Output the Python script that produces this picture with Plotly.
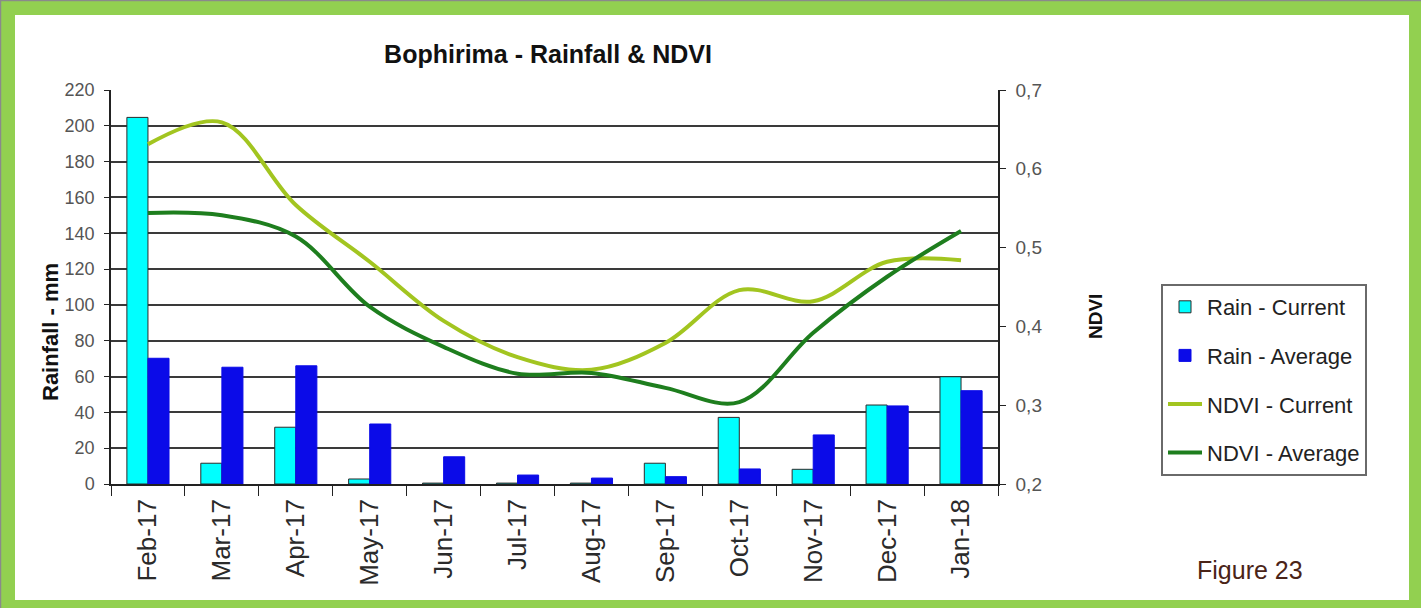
import plotly.graph_objects as go

# ---- data ----
categories = ["Feb-17", "Mar-17", "Apr-17", "May-17", "Jun-17", "Jul-17",
              "Aug-17", "Sep-17", "Oct-17", "Nov-17", "Dec-17", "Jan-18"]
rain_current = [204.7, 11.6, 31.7, 2.8, 0.5, 0.5, 0.5, 11.6, 37.2, 8.2, 44.1, 59.9]
rain_average = [70.2, 65.2, 66.0, 33.5, 15.2, 5.0, 3.3, 4.1, 8.4, 27.4, 43.6, 52.1]
ndvi_current = [0.631, 0.659, 0.554, 0.482, 0.407, 0.361, 0.345, 0.379, 0.446, 0.432, 0.482, 0.484]
ndvi_average = [0.544, 0.541, 0.514, 0.425, 0.374, 0.340, 0.341, 0.322, 0.304, 0.392, 0.463, 0.521]
rain_ticks = list(range(0, 221, 20))
grid_ticks = list(range(20, 201, 20))

W, H = 1421, 608
L, R, T, B = 111, 998, 90, 484
FONT = "Liberation Sans, Arial, sans-serif"


def px(x):
    return (x - L) / (R - L)


def py(y):
    return (B - y) / (B - T)


fig = go.Figure()
fig.add_trace(go.Bar(x=categories, y=rain_current, name="Rain - Current",
                     marker=dict(color="#00FFFF", line=dict(color="#2b2b2b", width=1)),
                     legendgroup="a", yaxis="y"))
fig.add_trace(go.Bar(x=categories, y=rain_average, name="Rain - Average",
                     marker=dict(color="#0B0BE8", line=dict(color="#0B0BE8", width=1)),
                     legendgroup="b", yaxis="y"))
fig.add_trace(go.Scatter(x=categories, y=ndvi_current, name="NDVI - Current", mode="lines",
                         line=dict(color="#A2C520", width=4, shape="spline", smoothing=1.0),
                         legendgroup="c", yaxis="y2"))
fig.add_trace(go.Scatter(x=categories, y=ndvi_average, name="NDVI - Average", mode="lines",
                         line=dict(color="#1E7E1E", width=4, shape="spline", smoothing=1.0),
                         legendgroup="d", yaxis="y2"))

fig.update_layout(
    width=W, height=H,
    margin=dict(l=L, r=W - R, t=T, b=H - B, pad=0),
    paper_bgcolor="#92D050",
    plot_bgcolor="rgba(0,0,0,0)",
    separators=",.",
    font=dict(family=FONT, color="#333333"),
    barmode="group", bargap=0.43, bargroupgap=0.0,
    showlegend=True,
    legend=dict(x=px(1161), y=py(284), xanchor="left", yanchor="top",
                bordercolor="#6a6a6a", borderwidth=2, bgcolor="white",
                font=dict(family=FONT, size=22, color="#222222"),
                tracegroupgap=17, itemwidth=34, traceorder="grouped"),
    title=dict(text="Bophirima - Rainfall & NDVI", x=548 / W, y=1 - 54 / H,
               xref="container", yref="container", xanchor="center", yanchor="middle",
               font=dict(family=FONT, size=25, color="#111111", weight="bold")),
    xaxis=dict(type="category", range=[-0.5, len(categories) - 0.5],
               showline=True, linecolor="#222222", linewidth=1.5,
               ticks="outside", tickson="boundaries", ticklen=10, tickcolor="#222222",
               tickangle=-90, tickfont=dict(family=FONT, size=26, color="#2a2a2a"),
               showgrid=False, ticklabelstandoff=3),
    yaxis=dict(range=[0, 220], tickvals=rain_ticks, showline=True, linecolor="#222222",
               linewidth=1.5, ticks="outside", ticklen=5, tickcolor="#222222",
               tickfont=dict(family=FONT, size=18, color="#555555"),
               showgrid=False, zeroline=False, ticklabelstandoff=6),
    yaxis2=dict(range=[0.2, 0.7], dtick=0.1, tick0=0.2, tickformat=".1f",
                overlaying="y", side="right", showline=True, linecolor="#222222",
                linewidth=1.5, ticks="outside", ticklen=6, tickcolor="#222222",
                tickfont=dict(family=FONT, size=19, color="#555555"),
                showgrid=False, zeroline=False, ticklabelstandoff=6),
    yaxis3=dict(range=[0, 220], tickvals=grid_ticks, overlaying="y", showgrid=True,
                gridcolor="#3a3a3a", gridwidth=1.5, showticklabels=False, ticks="",
                showline=False, zeroline=False),
)

# invisible trace to activate the grid overlay axis
fig.add_trace(go.Scatter(x=[categories[0]], y=[0], yaxis="y3", mode="lines",
                         line=dict(width=0), showlegend=False, hoverinfo="skip"))

fig.add_shape(type="rect", xref="paper", yref="paper",
              x0=px(15), x1=px(1409), y0=py(600), y1=py(15),
              fillcolor="white", line=dict(width=0), layer="below")
fig.add_shape(type="line", xref="paper", yref="paper",
              x0=px(0), x1=px(W), y0=py(0.5), y1=py(0.5),
              line=dict(color="#8a8a8a", width=1.5), layer="below")
fig.add_shape(type="line", xref="paper", yref="paper",
              x0=px(0.5), x1=px(0.5), y0=py(0), y1=py(H),
              line=dict(color="#8a8a8a", width=1.5), layer="below")

fig.add_annotation(text="Rainfall - mm", xref="paper", yref="paper",
                   x=px(50), y=py(332), textangle=-90, showarrow=False,
                   xanchor="center", yanchor="middle",
                   font=dict(family=FONT, size=22, color="#111111", weight="bold"))
fig.add_annotation(text="NDVI", xref="paper", yref="paper",
                   x=px(1095), y=py(317), textangle=-90, showarrow=False,
                   xanchor="center", yanchor="middle",
                   font=dict(family=FONT, size=19, color="#111111", weight="bold"))
fig.add_annotation(text="Figure 23", xref="paper", yref="paper",
                   x=px(1250), y=py(570), showarrow=False,
                   xanchor="center", yanchor="middle",
                   font=dict(family=FONT, size=25, color="#4A2418"))

fig.write_html("out.html", config={"displayModeBar": False},
               post_script="document.body.style.margin='0';document.body.style.overflow='hidden';")
